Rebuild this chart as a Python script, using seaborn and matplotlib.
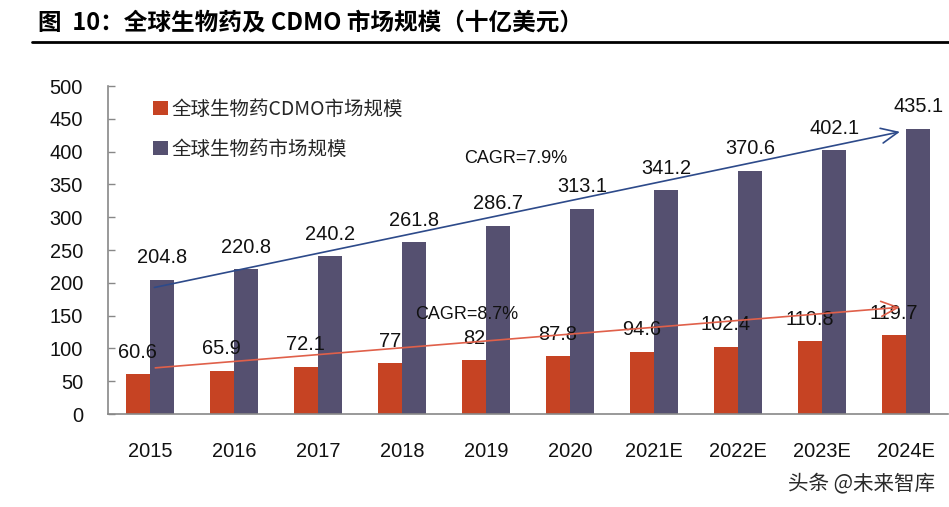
import matplotlib
matplotlib.use("Agg")
import matplotlib.pyplot as plt
import seaborn as sns
import pandas as pd
import numpy as np

years = ["2015", "2016", "2017", "2018", "2019", "2020", "2021E", "2022E", "2023E", "2024E"]
cdmo = [60.6, 65.9, 72.1, 77, 82, 87.8, 94.6, 102.4, 110.8, 119.7]
biopharma = [204.8, 220.8, 240.2, 261.8, 286.7, 313.1, 341.2, 370.6, 402.1, 435.1]
series_names = ["全球生物药CDMO市场规模", "全球生物药市场规模"]
yticks = [0, 50, 100, 150, 200, 250, 300, 350, 400, 450, 500]
title = "图  10：全球生物药及 CDMO 市场规模（十亿美元）"
cagr_labels = ["CAGR=7.9%", "CAGR=8.7%"]
watermark = "头条 @未来智库"

sns.set_theme(style="white")
plt.rcParams['font.family'] = ['Liberation Sans', 'Noto Sans CJK SC', 'DejaVu Sans']

df = pd.DataFrame({
    "year": years * 2,
    "value": cdmo + biopharma,
    "series": [series_names[0]] * len(years) + [series_names[1]] * len(years),
})

red = "#C64323"
purple = "#555070"
num_fs = 14.4

fig = plt.figure(figsize=(9.49, 5.07), dpi=100)
ax = fig.add_axes([108 / 949, 93 / 507, 840 / 949, 328 / 507])

sns.barplot(data=df, x="year", y="value", hue="series", order=years,
            hue_order=series_names, palette=[red, purple], width=0.58,
            saturation=1, ax=ax, edgecolor="none", legend=True)

ax.set_xlim(-0.5, len(years) - 0.5)
ax.set_ylim(0, 500)
ax.set_yticks(yticks)
ax.set_yticklabels([str(v) for v in yticks], fontsize=num_fs, color="#111111")
ax.set_xlabel("")
ax.set_ylabel("")
for lbl in ax.get_xticklabels():
    lbl.set_fontsize(num_fs)
    lbl.set_color("#111111")
ax.tick_params(axis="x", which="major", length=0, pad=20)
ax.set_xticks(np.arange(-0.5, len(years), 1.0), minor=True)
ax.tick_params(axis="x", which="minor", direction="in", length=5, color="#888888", width=1)
ax.tick_params(axis="y", direction="in", length=5, color="#888888", width=1, pad=18, left=True)
for s in ["top", "right"]:
    ax.spines[s].set_visible(False)
for s in ["left", "bottom"]:
    ax.spines[s].set_color("#888888")
    ax.spines[s].set_linewidth(1.2)

# value labels
off = 0.58 / 4
for i, (a, b) in enumerate(zip(cdmo, biopharma)):
    ax.text(i - off, a + 19, f"{a:g}", ha="center", va="bottom", fontsize=num_fs, color="#111111")
    ax.text(i + off, b + 19, f"{b:g}", ha="center", va="bottom", fontsize=num_fs, color="#111111")

# CAGR trend arrows
ax.annotate("", xy=(8.96, 431), xytext=(0.02, 192),
            arrowprops=dict(arrowstyle="->,head_length=1.0,head_width=0.45", color="#2D4A8A", lw=1.2))
ax.annotate("", xy=(8.96, 163), xytext=(0.03, 70),
            arrowprops=dict(arrowstyle="->,head_length=1.0,head_width=0.45", color="#E0604A", lw=1.2))
ax.text(4.35, 390, cagr_labels[0], ha="center", va="center", fontsize=13, color="#111111")
ax.text(3.77, 152, cagr_labels[1], ha="center", va="center", fontsize=13, color="#111111")

# legend
leg = ax.legend(loc="upper left", bbox_to_anchor=(0.0536, 0.96), frameon=False,
                borderpad=0, borderaxespad=0,
                handlelength=0.75, handleheight=0.75, handletextpad=0.2, labelspacing=0.95,
                prop={"family": ["Noto Sans CJK SC"], "size": 14})

# title and rule
fig.text(38 / 949, 1 - 22 / 507, title, ha="left", va="center", fontsize=17,
         fontweight="bold", family=["Noto Sans CJK SC"], color="#000000")
fig.add_artist(plt.Line2D([32 / 949, 1.0], [1 - 42 / 507, 1 - 42 / 507],
                          color="black", lw=2, transform=fig.transFigure))

fig.text(935 / 949, 1 - 483 / 507, watermark, ha="right", va="center", fontsize=14.8,
         family=["Noto Sans CJK SC"], color="#2a2a2a")

fig.savefig("out.png", dpi=100)
